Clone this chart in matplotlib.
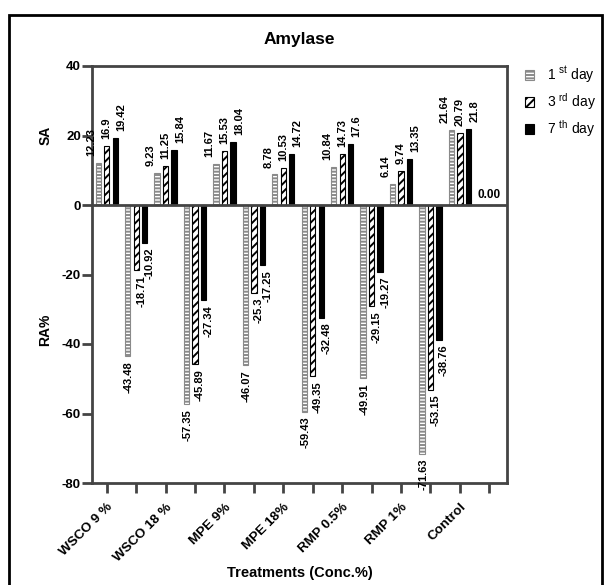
import numpy as np
import matplotlib
matplotlib.use('Agg')
import matplotlib.pyplot as plt
from matplotlib.patches import Patch, Rectangle

plt.rcParams['font.family'] = ['Liberation Sans', 'DejaVu Sans']
plt.rcParams['mathtext.fontset'] = 'custom'
plt.rcParams['mathtext.rm'] = 'Liberation Sans'
plt.rcParams['hatch.linewidth'] = 1.4

categories = ['WSCO 9 %', 'WSCO 18 %', 'MPE 9%', 'MPE 18%', 'RMP 0.5%', 'RMP 1%', 'Control']
days = [r'1 $^{\mathrm{st}}$ day', r'3 $^{\mathrm{rd}}$ day', r'7 $^{\mathrm{th}}$ day']

# SA (positive part)
sa_day1 = [12.23, 9.23, 11.67, 8.78, 10.84, 6.14, 21.64]
sa_day3 = [16.9, 11.25, 15.53, 10.53, 14.73, 9.74, 20.79]
sa_day7 = [19.42, 15.84, 18.04, 14.72, 17.6, 13.35, 21.8]
# RA% (negative part)
ra_day1 = [-43.48, -57.35, -46.07, -59.43, -49.91, -71.63, 0.0]
ra_day3 = [-18.71, -45.89, -25.3, -49.35, -29.15, -53.15, 0.0]
ra_day7 = [-10.92, -27.34, -17.25, -32.48, -19.27, -38.76, 0.0]

fig = plt.figure(figsize=(6.04, 5.85), dpi=100)
ax = fig.add_axes([92/604, 1-483/585, 415/604, 417/585])

n = len(categories)
sa_pos = np.arange(n) * 2
ra_pos = np.arange(n) * 2 + 1
w = 0.18
off = [-0.29, 0.0, 0.29]
styles = [dict(facecolor='white', edgecolor='#8a8a8a', hatch='-----', lw=0.8),
          dict(facecolor='white', edgecolor='black', hatch='////', lw=0.8),
          dict(facecolor='black', edgecolor='black', lw=0.8)]
lab_dx_pos = [-0.22, 0.0, 0.2]
lab_dx_neg = [0.05, 0.17, 0.17]

for k, (sa, ra) in enumerate([(sa_day1, ra_day1), (sa_day3, ra_day3), (sa_day7, ra_day7)]):
    ax.bar(sa_pos + off[k], sa, w, zorder=2, **styles[k])
    ax.bar(ra_pos + off[k], ra, w, zorder=2, **styles[k])
    for x, v in zip(sa_pos + off[k], sa):
        ax.text(x + lab_dx_pos[k], v + 2.0, f'{v:g}', rotation=90, ha='center', va='bottom',
                fontsize=8, fontweight='bold')
    for x, v in zip(ra_pos + off[k], ra):
        if v == 0:
            if k == 1:
                ax.text(x, 1.2, '0.00', ha='center', va='bottom', fontsize=8.5, fontweight='bold')
            continue
        ax.text(x + lab_dx_neg[k], v - 1.4, f'{v:g}', rotation=90, ha='center', va='top',
                fontsize=8, fontweight='bold')

ax.axhline(0, color='#444444', lw=2, zorder=3)
ax.set_xlim(-0.5, 13.6)
ax.set_ylim(-80, 40)
ax.set_yticks([-80, -60, -40, -20, 0, 20, 40])
ax.set_yticklabels([str(t) for t in [-80, -60, -40, -20, 0, 20, 40]], fontweight='bold', fontsize=9.5)
ax.set_xticks(np.arange(2 * n))
xlabels = []
for i in range(n):
    xlabels += [categories[i], '']
ax.set_xticklabels(xlabels, rotation=45, ha='right', va='top', rotation_mode='anchor',
                   fontweight='bold', fontsize=9.7)
ax.tick_params(axis='x', length=7, width=2, color='#444444', pad=6)
ax.tick_params(axis='y', length=7, width=2, color='#444444', pad=1)
for s in ax.spines.values():
    s.set_linewidth(2)
    s.set_color('#444444')

ax.set_title('Amylase', fontweight='bold', fontsize=12.5, pad=16)
ax.set_xlabel('Treatments (Conc.%)', fontweight='bold', fontsize=10.5, labelpad=2)
ax.text(-0.113, 20, 'SA', rotation=90, ha='center', va='center', fontweight='bold', fontsize=10,
        transform=ax.get_yaxis_transform())
ax.text(-0.113, -36, 'RA%', rotation=90, ha='center', va='center', fontweight='bold', fontsize=10,
        transform=ax.get_yaxis_transform())

handles = [Patch(**styles[k]) for k in range(3)]
fig.legend(handles, days, loc='upper left', bbox_to_anchor=(512/604, 1-52/585), frameon=False,
           handlelength=0.7, handleheight=0.7, handletextpad=0.9, labelspacing=0.45, fontsize=10)

fig.patches.append(Rectangle((8.5/604, -0.1), 593/604, 1.1 - 15/585, transform=fig.transFigure,
                             fill=False, edgecolor='black', lw=2))

fig.savefig('out.png', dpi=100)
